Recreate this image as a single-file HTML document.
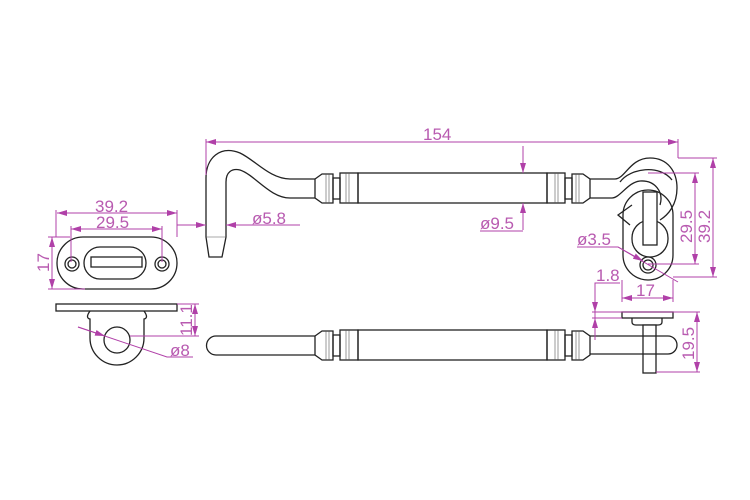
<!DOCTYPE html>
<html><head><meta charset="utf-8"><style>
html,body{margin:0;padding:0;background:#fff}
svg{display:block}
.k{fill:none;stroke:#222;stroke-width:1.3}
.t{stroke:#555;stroke-width:.6;fill:none}
.m{stroke:#b040a8;stroke-width:1;fill:none}
.tx{fill:#b85ab0;font-family:"Liberation Sans",sans-serif;font-size:17px}
</style></head><body>
<svg width="750" height="500" viewBox="0 0 750 500" xmlns="http://www.w3.org/2000/svg">
<defs><marker id="a" viewBox="0 0 10 6" refX="10" refY="3" markerWidth="10" markerHeight="6" orient="auto-start-reverse"><path d="M0,0L10,3L0,6z" fill="#b040a8"/></marker></defs>

<!-- left top plate -->
<rect class="k" x="57" y="237" width="120" height="52" rx="26"/>
<circle class="k" cx="72" cy="264" r="7"/><circle class="k" cx="72" cy="264" r="4"/>
<circle class="k" cx="162" cy="264" r="7"/><circle class="k" cx="162" cy="264" r="4"/>
<rect class="k" x="84" y="247" width="62" height="32" rx="16"/>
<rect class="k" x="91" y="257" width="51" height="10"/>
<!-- left bottom plate -->
<rect class="k" x="56" y="304" width="121" height="7"/>
<path class="k" d="M90,311 Q85,318 90,319 L90,338 A27,27 0 0 0 144,338 L144,319 Q149,318 144,311"/>
<circle class="k" cx="117" cy="340" r="13"/>

<!-- top hook -->
<path class="k" d="M290,179 C270,179 255,160 240,153 C220,145 206,158 206,178 L206,237 L209,257 L222,257 L226,237 L226,182 C226,172 232,168 240,170 C255,175 270,198 290,198"/>
<line class="t" x1="206" y1="237" x2="226" y2="237"/>
<g id="bar">
<rect class="k" x="290" y="179" width="25" height="19" style="stroke-width:0"/>
<line class="k" x1="290" y1="179" x2="315" y2="179"/><line class="k" x1="290" y1="198" x2="315" y2="198"/>
<path class="k" d="M315,179 L322,174 L333,174 L333,203 L322,203 L315,198 Z"/>
<line class="t" x1="326" y1="174" x2="326" y2="203"/><line class="t" x1="329" y1="174" x2="329" y2="203"/>
<rect class="k" x="333" y="178" width="7" height="21"/>
<rect class="k" x="340" y="173" width="18" height="30"/>
<line class="t" x1="346" y1="173" x2="346" y2="203"/><line class="t" x1="349" y1="173" x2="349" y2="203"/>
<rect class="k" x="358" y="173" width="189" height="30"/>
<rect class="k" x="547" y="173" width="18" height="30"/>
<line class="t" x1="555" y1="173" x2="555" y2="203"/><line class="t" x1="558" y1="173" x2="558" y2="203"/>
<rect class="k" x="565" y="178" width="7" height="21"/>
<path class="k" d="M572,174 L583,174 L590,179 L590,198 L583,203 L572,203 Z"/>
<line class="t" x1="576" y1="174" x2="576" y2="203"/><line class="t" x1="579" y1="174" x2="579" y2="203"/>
</g>
<!-- right end top -->
<rect class="k" x="623" y="190" width="50" height="90" rx="25"/>
<path class="k" d="M590,179 L615,179 C625,179 630,158 650,158 C668,158 677,172 677,188 C677,205 668,215 660,220"/>
<path class="k" d="M590,198 L612,198 C620,198 628,182 640,181 C655,180 664,192 660,205"/>
<path class="k" d="M620,182 C630,168 660,164 672,180"/>
<path class="k" d="M632,205 L618,215 L630,225"/>
<rect class="k" x="632" y="220" width="36" height="37" rx="18"/>
<rect class="k" x="643" y="192" width="14" height="53" style="fill:#fff"/>
<circle class="k" cx="648" cy="265" r="8"/><circle class="k" cx="648" cy="265" r="5"/>

<!-- bottom bar -->
<path class="k" d="M290,336 L216,336 A9.5,9.5 0 0 0 216,355 L290,355"/>
<use href="#bar" transform="translate(0,157)"/>
<path class="k" d="M590,336 L668,336 A9,9 0 0 1 668,354 L590,354"/>
<rect class="k" x="622" y="312" width="51" height="6"/>
<path class="k" d="M632,318 L632,322 Q632,325 636,325 L658,325 Q662,325 662,322 L662,318"/>
<rect class="k" x="643" y="325" width="13" height="48" style="fill:#fff"/>
<line class="k" x1="643" y1="336" x2="656" y2="336"/><line class="k" x1="643" y1="354" x2="656" y2="354"/>

<!-- dimensions -->
<g class="m">
<line x1="206" y1="175" x2="206" y2="139"/><line x1="678" y1="158" x2="678" y2="139"/>
<line x1="206" y1="142" x2="678" y2="142" marker-start="url(#a)" marker-end="url(#a)"/>
<line x1="56" y1="237" x2="56" y2="210"/><line x1="177" y1="237" x2="177" y2="210"/>
<line x1="57" y1="213" x2="177" y2="213" marker-start="url(#a)" marker-end="url(#a)"/>
<line x1="71" y1="262" x2="71" y2="226"/><line x1="162" y1="262" x2="162" y2="226"/>
<line x1="71" y1="229" x2="162" y2="229" marker-start="url(#a)" marker-end="url(#a)"/>
<line x1="48" y1="237" x2="70" y2="237"/><line x1="48" y1="289" x2="85" y2="289"/>
<line x1="52" y1="237" x2="52" y2="289" marker-start="url(#a)" marker-end="url(#a)"/>
<line x1="177" y1="225" x2="206" y2="225" marker-end="url(#a)"/>
<line x1="300" y1="225" x2="226" y2="225" marker-end="url(#a)"/>
<line x1="177" y1="304" x2="199" y2="304"/><line x1="130" y1="336" x2="199" y2="336"/>
<line x1="195" y1="304" x2="195" y2="336" marker-start="url(#a)" marker-end="url(#a)"/>
<polyline points="78,327 167,357 193,357"/>
<line x1="78" y1="327" x2="105" y2="336" marker-end="url(#a)"/>
<line x1="523" y1="146" x2="523" y2="173" marker-end="url(#a)"/>
<line x1="523" y1="230" x2="523" y2="203" marker-end="url(#a)"/>
<line x1="480" y1="231" x2="523" y2="231"/>
<polyline points="577,247 618,247 678,282"/>
<line x1="618" y1="247" x2="643" y2="261" marker-end="url(#a)"/>
<line x1="648" y1="173" x2="699" y2="173"/><line x1="648" y1="264" x2="699" y2="264"/>
<line x1="695" y1="173" x2="695" y2="264" marker-start="url(#a)" marker-end="url(#a)"/>
<line x1="678" y1="158" x2="717" y2="158"/><line x1="673" y1="277" x2="717" y2="277"/>
<line x1="713" y1="158" x2="713" y2="277" marker-start="url(#a)" marker-end="url(#a)"/>
<line x1="622" y1="280" x2="622" y2="302"/><line x1="673" y1="280" x2="673" y2="302"/>
<line x1="622" y1="298" x2="673" y2="298" marker-start="url(#a)" marker-end="url(#a)"/>
<polyline points="620,283 595,283 595,340"/>
<line x1="595" y1="290" x2="595" y2="312" marker-end="url(#a)"/>
<line x1="595" y1="340" x2="595" y2="318" marker-end="url(#a)"/>
<line x1="592" y1="312" x2="700" y2="312"/><line x1="592" y1="318" x2="622" y2="318"/>
<line x1="656" y1="372" x2="700" y2="372"/>
<line x1="697" y1="312" x2="697" y2="372" marker-start="url(#a)" marker-end="url(#a)"/>
</g>
<g class="tx">
<text x="423" y="140">154</text>
<text x="95" y="212">39.2</text>
<text x="96" y="228">29.5</text>
<text x="252" y="224">ø5.8</text>
<text x="480" y="229">ø9.5</text>
<text x="577" y="245">ø3.5</text>
<text x="596" y="281">1.8</text>
<text x="636" y="296">17</text>
<text x="170" y="356">ø8</text>
<text transform="translate(49,272) rotate(-90)">17</text>
<text transform="translate(192,336) rotate(-90)">11.1</text>
<text transform="translate(692,243) rotate(-90)">29.5</text>
<text transform="translate(710,243) rotate(-90)">39.2</text>
<text transform="translate(694,360) rotate(-90)">19.5</text>
</g>
</svg>
</body></html>
